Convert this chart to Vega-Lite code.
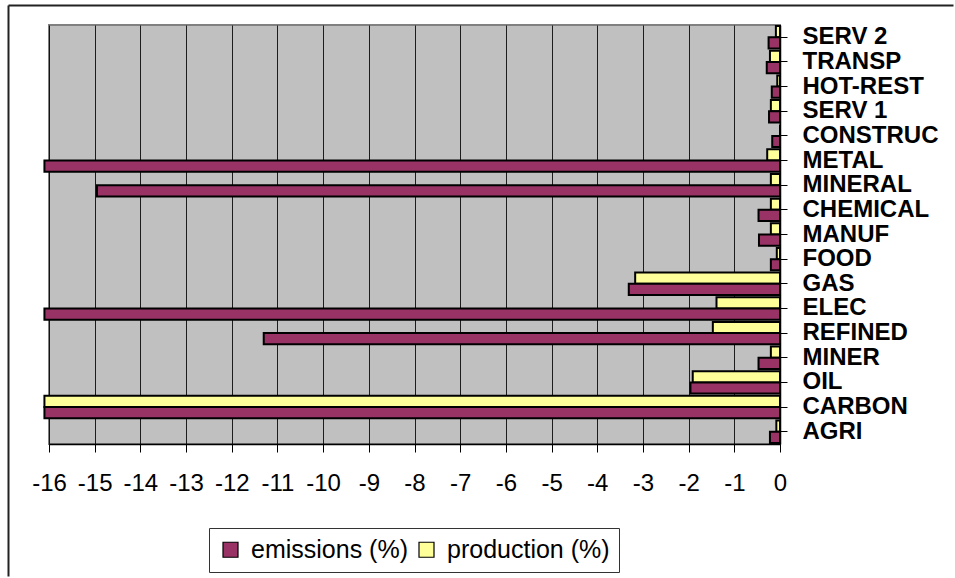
{
  "$schema": "https://vega.github.io/schema/vega-lite/v6.json",
  "autosize": "none",
  "padding": {"left": 49, "top": 25, "right": 175, "bottom": 134},
  "width": 731,
  "height": 419,
  "background": "white",
  "data": {
    "values": [
      {"sector": "SERV 2", "series": "production (%)", "change": -0.09},
      {"sector": "SERV 2", "series": "emissions (%)", "change": -0.25},
      {"sector": "TRANSP", "series": "production (%)", "change": -0.22},
      {"sector": "TRANSP", "series": "emissions (%)", "change": -0.29},
      {"sector": "HOT-REST", "series": "production (%)", "change": -0.06},
      {"sector": "HOT-REST", "series": "emissions (%)", "change": -0.18},
      {"sector": "SERV 1", "series": "production (%)", "change": -0.2},
      {"sector": "SERV 1", "series": "emissions (%)", "change": -0.24},
      {"sector": "CONSTRUC", "series": "production (%)", "change": 0},
      {"sector": "CONSTRUC", "series": "emissions (%)", "change": -0.17},
      {"sector": "METAL", "series": "production (%)", "change": -0.28},
      {"sector": "METAL", "series": "emissions (%)", "change": -16.1},
      {"sector": "MINERAL", "series": "production (%)", "change": -0.2},
      {"sector": "MINERAL", "series": "emissions (%)", "change": -14.95},
      {"sector": "CHEMICAL", "series": "production (%)", "change": -0.2},
      {"sector": "CHEMICAL", "series": "emissions (%)", "change": -0.47},
      {"sector": "MANUF", "series": "production (%)", "change": -0.2},
      {"sector": "MANUF", "series": "emissions (%)", "change": -0.46},
      {"sector": "FOOD", "series": "production (%)", "change": -0.07},
      {"sector": "FOOD", "series": "emissions (%)", "change": -0.2},
      {"sector": "GAS", "series": "production (%)", "change": -3.17},
      {"sector": "GAS", "series": "emissions (%)", "change": -3.31},
      {"sector": "ELEC", "series": "production (%)", "change": -1.39},
      {"sector": "ELEC", "series": "emissions (%)", "change": -16.1},
      {"sector": "REFINED", "series": "production (%)", "change": -1.47},
      {"sector": "REFINED", "series": "emissions (%)", "change": -11.3},
      {"sector": "MINER", "series": "production (%)", "change": -0.2},
      {"sector": "MINER", "series": "emissions (%)", "change": -0.47},
      {"sector": "OIL", "series": "production (%)", "change": -1.91},
      {"sector": "OIL", "series": "emissions (%)", "change": -1.96},
      {"sector": "CARBON", "series": "production (%)", "change": -16.1},
      {"sector": "CARBON", "series": "emissions (%)", "change": -16.1},
      {"sector": "AGRI", "series": "production (%)", "change": -0.08},
      {"sector": "AGRI", "series": "emissions (%)", "change": -0.22}
    ]
  },
  "layer": [
    {
      "mark": {"type": "bar", "stroke": "black", "strokeWidth": 2, "clip": false},
      "encoding": {
        "y": {
          "field": "sector",
          "type": "nominal",
          "sort": null,
          "scale": {"paddingInner": 0, "paddingOuter": 0},
          "axis": {
            "orient": "right",
            "title": null,
            "labelFont": "Liberation Sans",
            "labelFontWeight": "bold",
            "labelFontSize": 24,
            "labelColor": "black",
            "labelAlign": "left",
            "labelPadding": 15,
            "labelLimit": 300,
            "tickSize": 7,
            "tickColor": "black",
            "tickWidth": 1,
            "domainColor": "black",
            "domainWidth": 1.5,
            "grid": false
          }
        },
        "yOffset": {
          "field": "series",
          "type": "nominal",
          "scale": {"domain": ["production (%)", "emissions (%)"], "paddingInner": 0, "paddingOuter": 0.1}
        },
        "x": {
          "field": "change",
          "type": "quantitative",
          "scale": {"domain": [-16, 0], "nice": false, "zero": false},
          "axis": {
            "orient": "bottom",
            "title": null,
            "values": [-16, -15, -14, -13, -12, -11, -10, -9, -8, -7, -6, -5, -4, -3, -2, -1, 0],
            "labelExpr": "'' + datum.value",
            "labelFont": "Liberation Sans",
            "labelFontSize": 24,
            "labelColor": "black",
            "labelPadding": 19,
            "labelFlush": false,
            "labelOverlap": false,
            "tickSize": 8,
            "tickColor": "black",
            "tickWidth": 1,
            "domainColor": "black",
            "domainWidth": 1.5,
            "grid": true,
            "gridColor": "black",
            "gridWidth": 1,
            "gridOpacity": 0.85
          }
        },
        "color": {
          "field": "series",
          "type": "nominal",
          "scale": {"domain": ["emissions (%)", "production (%)"], "range": ["#993366", "#ffff99"]},
          "legend": {
            "orient": "none",
            "legendX": 160,
            "legendY": 503,
            "direction": "horizontal",
            "title": null,
            "strokeColor": "#333333",
            "padding": 9,
            "symbolType": "square",
            "symbolSize": 225,
            "symbolStrokeColor": "black",
            "symbolStrokeWidth": 1.2,
            "symbolOpacity": 1,
            "labelFont": "Liberation Sans",
            "labelFontSize": 25,
            "labelColor": "black",
            "labelOffset": 8,
            "labelLimit": 300,
            "columnPadding": 6
          }
        }
      }
    },
    {
      "mark": {"type": "point", "opacity": 0, "size": 0},
      "encoding": {
        "x": {
          "field": "change",
          "type": "quantitative",
          "scale": {"range": [-41, 904]},
          "axis": {"orient": "top", "offset": 20, "labels": false, "ticks": false, "grid": false, "title": null, "domainColor": "#222222", "domainWidth": 2}
        },
        "y": {
          "field": "change",
          "type": "quantitative",
          "scale": {"range": [551, -20]},
          "axis": {"orient": "left", "offset": 41, "labels": false, "ticks": false, "grid": false, "title": null, "domainColor": "#222222", "domainWidth": 2}
        }
      }
    }
  ],
  "resolve": {"scale": {"x": "independent", "y": "independent"}, "axis": {"x": "independent", "y": "independent"}},
  "config": {
    "view": {"fill": "#c0c0c0", "stroke": "#808080", "strokeWidth": 2}
  }
}
